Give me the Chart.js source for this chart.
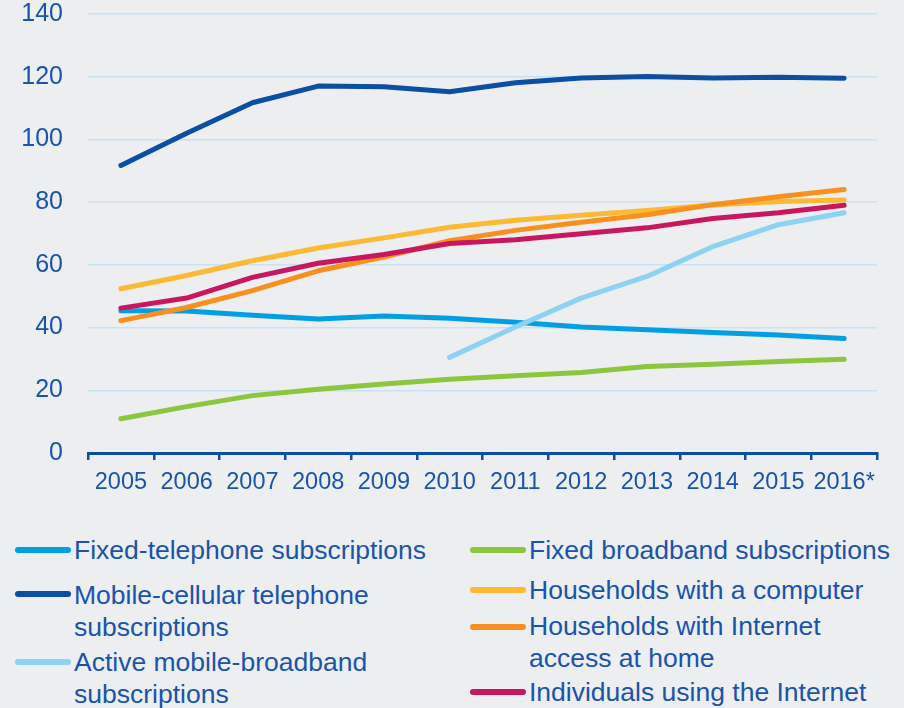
<!DOCTYPE html>
<html>
<head>
<meta charset="utf-8">
<script src="https://cdn.jsdelivr.net/npm/chart.js@4"></script>
<style>
  html, body { margin: 0; padding: 0; background: #eceef0; }
  body { width: 904px; height: 708px; position: relative; overflow: hidden;
         font-family: "Liberation Sans", Arial, sans-serif; }
  #wrap { position: absolute; left: 0; top: 0; width: 904px; height: 500px; }
  .item { position: absolute; font-size: 26.5px; line-height: 32px; color: #1a54aa; white-space: nowrap; }
  .sw { position: absolute; width: 56px; height: 6px; border-radius: 3px; }
</style>
</head>
<body>
<div id="wrap"><canvas id="grafico"></canvas></div>
<div id="legenda"></div>
<script>
// anos e séries (por 100 habitantes)
const anos = ['2005', '2006', '2007', '2008', '2009', '2010', '2011', '2012', '2013', '2014', '2015', '2016*'];
const fixoTelefone = [45.4, 45.3, 43.9, 42.7, 43.7, 43.0, 41.7, 40.2, 39.3, 38.4, 37.6, 36.5];
const celularMovel = [91.7, 102.0, 111.7, 117.0, 116.8, 115.2, 118.1, 119.6, 120.1, 119.6, 119.8, 119.5];
const bandaLargaMovel = [null, null, null, null, null, 30.5, 40.2, 49.4, 56.3, 65.8, 72.8, 76.6];
const bandaLargaFixa = [10.9, 14.8, 18.3, 20.3, 22.0, 23.5, 24.6, 25.7, 27.6, 28.3, 29.2, 29.9];
const domComputador = [52.4, 56.6, 61.3, 65.4, 68.6, 72.0, 74.2, 75.8, 77.3, 79.1, 80.2, 80.7];
const domInternet = [42.2, 46.4, 51.8, 58.1, 62.5, 67.7, 71.0, 73.6, 76.0, 79.2, 81.7, 84.0];
const individuos = [46.2, 49.4, 56.0, 60.5, 63.3, 66.8, 68.0, 69.9, 71.8, 74.8, 76.6, 79.0];
const ticksY = [0, 20, 40, 60, 80, 100, 120, 140];

const AZUL_TEXTO = '#1a54aa';
const AZUL_EIXO = '#0b4ea2';

// ordem: menor número fica por cima
const series = [
    { label: 'Fixed-telephone subscriptions', data: fixoTelefone, cor: '#009fe3', order: 4 },
    { label: 'Mobile-cellular telephone subscriptions', data: celularMovel, cor: '#0b4ea2', order: 5 },
    { label: 'Active mobile-broadband subscriptions', data: bandaLargaMovel, cor: '#8dd1f3', order: 3 },
    { label: 'Fixed broadband subscriptions', data: bandaLargaFixa, cor: '#8cc63f', order: 6 },
    { label: 'Households with a computer', data: domComputador, cor: '#fdb933', order: 2 },
    { label: 'Households with Internet access at home', data: domInternet, cor: '#f7901e', order: 1 },
    { label: 'Individuals using the Internet', data: individuos, cor: '#c9175f', order: 0 }
];

new Chart(document.getElementById('grafico'), {
    type: 'line',
    data: {
        labels: anos,
        datasets: series.map(s => ({
            label: s.label, data: s.data, order: s.order,
            borderColor: s.cor, backgroundColor: s.cor,
            borderWidth: 5, borderCapStyle: 'round', borderJoinStyle: 'round',
            pointRadius: 0, tension: 0, fill: false
        }))
    },
    options: {
        responsive: true,
        maintainAspectRatio: false,
        animation: false,
        layout: { padding: { left: 0, right: 27, top: 1, bottom: 0 } },
        plugins: { legend: { display: false }, tooltip: { enabled: false } },
        scales: {
            x: {
                offset: true,
                grid: { offset: true, drawOnChartArea: false, drawTicks: true, tickLength: 7, tickWidth: 2.5, lineWidth: 2.5, tickColor: AZUL_EIXO, color: AZUL_EIXO },
                border: { display: true, color: AZUL_EIXO, width: 3 },
                ticks: { color: AZUL_TEXTO, padding: 8, maxRotation: 0, autoSkip: false, font: { family: 'Liberation Sans', size: 23.5 } },
                afterFit: (eixo) => { eixo.height = 47; }
            },
            y: {
                min: 0, max: 140,
                afterBuildTicks: (eixo) => { eixo.ticks = ticksY.map(v => ({ value: v })); },
                grid: { drawTicks: false, color: '#c4e4f5', lineWidth: 1.5 },
                border: { display: false },
                ticks: { color: AZUL_TEXTO, padding: 25, font: { family: 'Liberation Sans', size: 25 } },
                // o Chart.js soma o padding dos dois lados; aqui fixamos a largura e as margens
                afterFit: (eixo) => { eixo.width = 88; eixo.paddingTop = 14; eixo.paddingBottom = 14; }
            }
        }
    }
});

// legenda em duas colunas
const itensLegenda = [
    { i: 0, x: 15, top: 534, texto: 'Fixed-telephone subscriptions' },
    { i: 1, x: 15, top: 579, texto: 'Mobile-cellular telephone<br>subscriptions', sw: 12 },
    { i: 2, x: 15, top: 646, texto: 'Active mobile-broadband<br>subscriptions' },
    { i: 3, x: 470, top: 534, texto: 'Fixed broadband subscriptions' },
    { i: 4, x: 470, top: 574, texto: 'Households with a computer' },
    { i: 5, x: 470, top: 610, texto: 'Households with Internet<br>access at home', sw: 14 },
    { i: 6, x: 470, top: 676, texto: 'Individuals using the Internet' }
];
const legenda = document.getElementById('legenda');
itensLegenda.forEach(it => {
    const sw = document.createElement('div');
    sw.className = 'sw';
    sw.style.left = it.x + 'px';
    sw.style.top = (it.top + (it.sw || 13)) + 'px';
    sw.style.background = series[it.i].cor;
    legenda.appendChild(sw);
    const txt = document.createElement('div');
    txt.className = 'item';
    txt.style.left = (it.x + 59) + 'px';
    txt.style.top = it.top + 'px';
    txt.innerHTML = it.texto;
    legenda.appendChild(txt);
});
</script>
</body>
</html>
